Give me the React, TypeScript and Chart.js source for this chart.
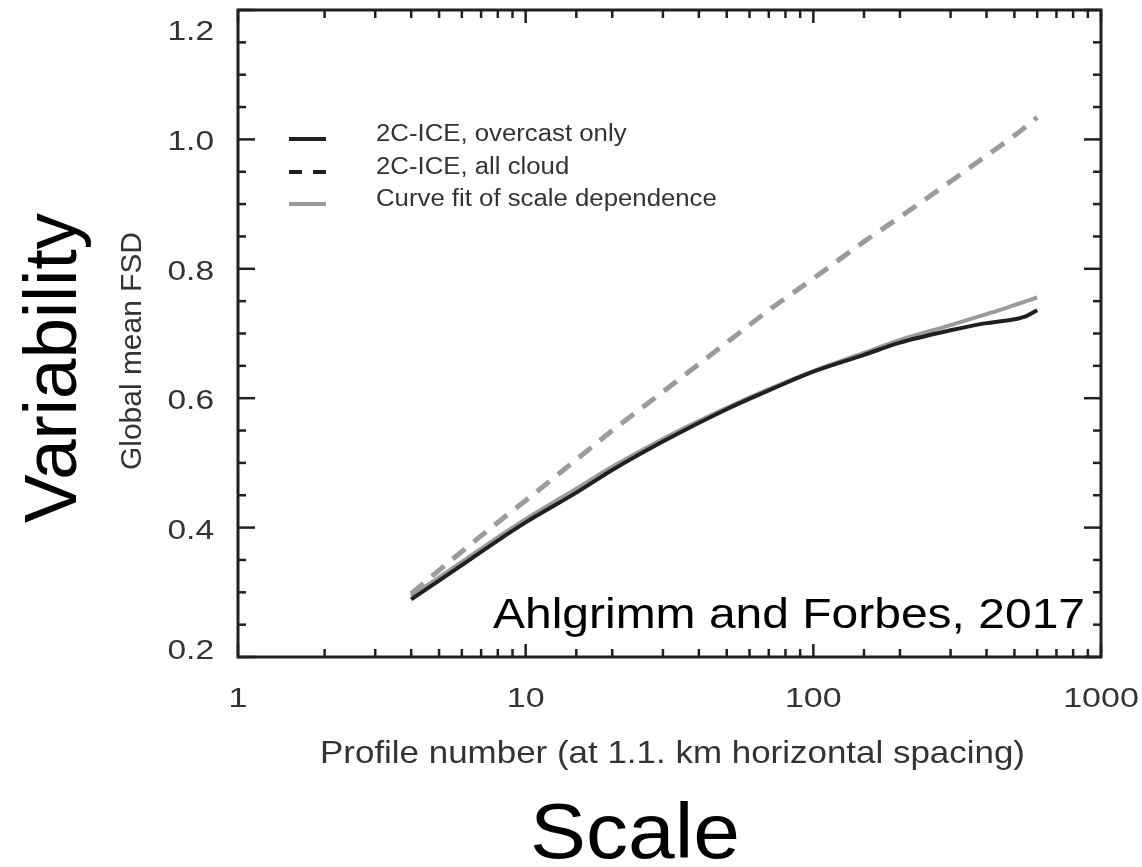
import React, { useEffect, useRef } from "react";
import { Chart, registerables } from "chart.js";

Chart.register(...registerables);

// ---------- data ----------
const profileNumber = [4, 5, 6, 8, 10, 15, 20, 30, 50, 70, 100, 150, 200, 300, 400, 450, 500, 550, 600];
const overcastOnly = [0.289, 0.318, 0.342, 0.38, 0.408, 0.454, 0.489, 0.533, 0.583, 0.612, 0.641, 0.667, 0.686, 0.705, 0.716, 0.719, 0.722, 0.727, 0.736];
const allCloud = [0.298, 0.334, 0.363, 0.408, 0.442, 0.505, 0.55, 0.61, 0.686, 0.736, 0.785, 0.842, 0.88, 0.935, 0.975, 0.991, 1.006, 1.02, 1.034];
const curveFit = [0.294, 0.323, 0.347, 0.385, 0.413, 0.46, 0.494, 0.537, 0.585, 0.614, 0.642, 0.67, 0.69, 0.713, 0.73, 0.737, 0.744, 0.75, 0.756];

const seriesLabels = ["2C-ICE, overcast only", "2C-ICE, all cloud", "Curve fit of scale dependence"];
const xTickLabels = ["1", "10", "100", "1000"];
const yTickLabels = ["0.2", "0.4", "0.6", "0.8", "1.0", "1.2"];

const xTitle = "Profile number (at 1.1. km horizontal spacing)";
const yTitle = "Global mean FSD";
const bigYTitle = "Variability";
const bigXTitle = "Scale";
const citation = "Ahlgrimm and Forbes, 2017";

// ---------- style ----------
const FONT = '"Liberation Sans", Arial, Helvetica, sans-serif';
const BLACK = "#231f20";
const GRAY = "#9b9b9b";
const TEXT_GRAY = "#333333";

type TextOpts = {
  size: number;
  color: string;
  align?: CanvasTextAlign;
  width?: number; // fit to width
  sx?: number; // horizontal stretch
  rotate?: boolean;
};

function drawText(ctx: CanvasRenderingContext2D, text: string, x: number, y: number, o: TextOpts) {
  ctx.save();
  ctx.translate(x, y);
  if (o.rotate) ctx.rotate(-Math.PI / 2);
  ctx.font = `${o.size}px ${FONT}`;
  ctx.fillStyle = o.color;
  ctx.textBaseline = "alphabetic";
  ctx.textAlign = o.align || "center";
  const w = ctx.measureText(text).width;
  const sx = o.width ? o.width / w : o.sx || 1;
  ctx.scale(sx, 1);
  ctx.fillText(text, 0, 0);
  ctx.restore();
}

const isPow10 = (v: number) => Math.abs(Math.log10(v) - Math.round(Math.log10(v))) < 1e-9;
const isYMajor = (v: number) => Math.abs(v * 5 - Math.round(v * 5)) < 1e-6;

function seg(ctx: CanvasRenderingContext2D, x1: number, y1: number, x2: number, y2: number) {
  ctx.beginPath();
  ctx.moveTo(x1, y1);
  ctx.lineTo(x2, y2);
  ctx.stroke();
}

const legendStyles = [
  { color: BLACK, dash: [] as number[] },
  { color: BLACK, dash: [13, 11] },
  { color: GRAY, dash: [] as number[] },
];

const figurePlugin = {
  id: "figure",
  afterDatasetsDraw(chart: any) {
    const { ctx, chartArea: a, scales } = chart;
    const xs = scales.x;
    const ys = scales.y;
    ctx.save();

    // frame
    ctx.strokeStyle = BLACK;
    ctx.lineWidth = 3;
    ctx.strokeRect(a.left, a.top, a.right - a.left, a.bottom - a.top);

    // x ticks (inward, bottom and top)
    ctx.lineWidth = 2.5;
    xs.ticks.forEach((t: any) => {
      const v = t.value;
      if (v < xs.min - 1e-9 || v > xs.max + 1e-9) return;
      const px = xs.getPixelForValue(v);
      const len = isPow10(v) ? 13 : 8;
      seg(ctx, px, a.bottom, px, a.bottom - len);
      seg(ctx, px, a.top, px, a.top + len);
      if (t.label) {
        drawText(ctx, String(t.label), px, 707, { size: 27, color: TEXT_GRAY, sx: 1.26 });
      }
    });

    // y ticks (inward, left and right)
    ys.ticks.forEach((t: any) => {
      const v = t.value;
      const py = ys.getPixelForValue(v);
      const len = isYMajor(v) ? 17 : 8;
      seg(ctx, a.left, py, a.left + len, py);
      seg(ctx, a.right, py, a.right - len, py);
      if (t.label) {
        const cy = Math.min(Math.max(py + 1, a.top + 20), a.bottom - 8);
        drawText(ctx, String(t.label), 214, cy + 10, { size: 27, color: TEXT_GRAY, align: "right", sx: 1.24 });
      }
    });

    // legend
    const rows = [139, 172, 204];
    chart.data.datasets.forEach((ds: any, i: number) => {
      const st = legendStyles[i];
      const y = rows[i];
      ctx.save();
      ctx.strokeStyle = st.color;
      ctx.lineWidth = 4;
      ctx.setLineDash(st.dash);
      seg(ctx, 289, y, 326, y);
      ctx.restore();
      drawText(ctx, ds.label, 376, y + 2, { size: 23, color: TEXT_GRAY, align: "left", sx: 1.12 });
    });

    // citation
    drawText(ctx, citation, 493, 628, { size: 42, color: "#000", align: "left", width: 592 });

    // axis titles
    const cx = (a.left + a.right) / 2;
    drawText(ctx, xTitle, cx + 3, 763, { size: 32, color: TEXT_GRAY, width: 705 });
    drawText(ctx, yTitle, 141, 351, { size: 30, color: TEXT_GRAY, width: 238, rotate: true });

    // large annotations
    drawText(ctx, bigYTitle, 76, 368, { size: 74, color: "#000", width: 310, rotate: true });
    drawText(ctx, bigXTitle, 635, 858, { size: 78, color: "#000", width: 210 });

    ctx.restore();
  },
};

export default function App() {
  const canvasRef = useRef<HTMLCanvasElement | null>(null);

  useEffect(() => {
    const canvas = canvasRef.current;
    if (!canvas) return;
    const pts = (ys: number[]) => profileNumber.map((x, i) => ({ x, y: ys[i] }));
    const chart = new Chart(canvas, {
      type: "line",
      data: {
        datasets: [
          {
            label: seriesLabels[0],
            data: pts(overcastOnly),
            borderColor: BLACK,
            borderWidth: 4,
            pointRadius: 0,
            cubicInterpolationMode: "monotone",
          },
          {
            label: seriesLabels[1],
            data: pts(allCloud),
            borderColor: GRAY,
            borderWidth: 5,
            borderDash: [16, 11],
            pointRadius: 0,
            cubicInterpolationMode: "monotone",
          },
          {
            label: seriesLabels[2],
            data: pts(curveFit),
            borderColor: GRAY,
            borderWidth: 4,
            pointRadius: 0,
            cubicInterpolationMode: "monotone",
          },
        ],
      },
      options: {
        animation: false,
        responsive: false,
        maintainAspectRatio: false,
        layout: { padding: { left: 238, top: 10, right: 41, bottom: 210 } },
        plugins: { legend: { display: false }, tooltip: { enabled: false } },
        scales: {
          x: {
            type: "logarithmic",
            display: false,
            min: 1,
            max: 1000,
            ticks: {
              autoSkip: false,
              callback: (v: any) => xTickLabels.find((l) => Math.abs(parseFloat(l) - Number(v)) < 1e-9) ?? "",
            },
          },
          y: {
            type: "linear",
            display: false,
            min: 0.2,
            max: 1.2,
            ticks: {
              stepSize: 0.05,
              autoSkip: false,
              callback: (v: any) => yTickLabels.find((l) => Math.abs(parseFloat(l) - Number(v)) < 1e-6) ?? "",
            },
          },
        },
      },
      plugins: [figurePlugin],
    });
    return () => chart.destroy();
  }, []);

  return (
    <div style={{ position: "absolute", left: 0, top: 0, width: 1142, height: 867, background: "#fff" }}>
      <canvas ref={canvasRef} width={1142} height={867} />
    </div>
  );
}
